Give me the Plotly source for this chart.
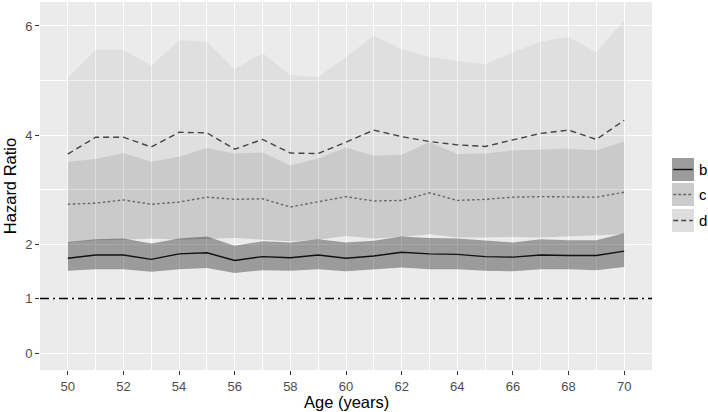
import plotly.graph_objects as go

age = list(range(50, 71))

b_est = [1.74, 1.80, 1.80, 1.72, 1.82, 1.84, 1.70, 1.77, 1.75, 1.80, 1.74,
         1.78, 1.85, 1.82, 1.81, 1.77, 1.76, 1.80, 1.79, 1.79, 1.87]
b_lo = [1.51, 1.54, 1.54, 1.49, 1.54, 1.56, 1.47, 1.52, 1.51, 1.54, 1.50,
        1.53, 1.57, 1.54, 1.54, 1.51, 1.50, 1.54, 1.54, 1.52, 1.58]
b_hi = [2.04, 2.09, 2.10, 2.01, 2.10, 2.14, 1.97, 2.05, 2.03, 2.09, 2.03,
        2.06, 2.14, 2.11, 2.10, 2.06, 2.03, 2.09, 2.07, 2.07, 2.20]

c_est = [2.73, 2.75, 2.81, 2.73, 2.77, 2.86, 2.82, 2.83, 2.68, 2.77, 2.87,
         2.79, 2.80, 2.94, 2.80, 2.82, 2.86, 2.87, 2.87, 2.86, 2.95]
c_lo = [2.03, 2.07, 2.08, 2.10, 2.08, 2.10, 2.11, 2.08, 2.05, 2.08, 2.15,
        2.10, 2.13, 2.18, 2.12, 2.12, 2.13, 2.12, 2.14, 2.16, 2.18]
c_hi = [3.51, 3.56, 3.67, 3.51, 3.60, 3.76, 3.66, 3.68, 3.44, 3.57, 3.77,
        3.62, 3.64, 3.87, 3.65, 3.66, 3.72, 3.74, 3.75, 3.72, 3.88]

d_est = [3.65, 3.96, 3.96, 3.78, 4.05, 4.04, 3.74, 3.92, 3.67, 3.66, 3.87,
         4.09, 3.97, 3.88, 3.82, 3.79, 3.91, 4.03, 4.09, 3.92, 4.27]
d_lo = c_lo
d_hi = [5.05, 5.56, 5.56, 5.27, 5.74, 5.71, 5.21, 5.50, 5.10, 5.06, 5.43,
        5.82, 5.58, 5.43, 5.36, 5.30, 5.52, 5.71, 5.80, 5.52, 6.11]

ref_line = 1
x_ticks = list(range(50, 71, 2))
y_ticks = [0, 1, 2, 4, 6]

series = [
    ("d", d_lo, d_hi, d_est, "rgba(0,0,0,0.05)", "#444444", "6px,4px"),
    ("c", c_lo, c_hi, c_est, "rgba(0,0,0,0.09)", "#666666", "2.5px,2.5px"),
    ("b", b_lo, b_hi, b_est, "rgba(0,0,0,0.34)", "#111111", "solid"),
]
key_fill = {"b": "#9c9c9c", "c": "#cbcbcb", "d": "#dedede"}
key_dash = {"b": "solid", "c": "3px,2px", "d": "5px,3px"}

fig = go.Figure()
for name, lo, hi, est, fill, lc, dash in series:
    fig.add_trace(go.Scatter(x=age, y=lo, mode="lines", line=dict(width=0),
                             showlegend=False, hoverinfo="skip"))
    fig.add_trace(go.Scatter(x=age, y=hi, mode="lines", line=dict(width=0),
                             fill="tonexty", fillcolor=fill,
                             showlegend=False, hoverinfo="skip"))
for name, lo, hi, est, fill, lc, dash in series:
    fig.add_trace(go.Scatter(x=age, y=est, mode="lines",
                             line=dict(color=lc, width=1.4, dash=dash),
                             showlegend=False, name=name))

fig.add_hline(y=ref_line, line=dict(color="black", width=1.5,
                                    dash="9px,4px,2px,4px"))

# manual ggplot-style legend
key_x0, key_x1 = 1.0327, 1.0686
key_h = 23 / 368
tops = {"b": (370 - 158) / 368, "c": (370 - 183) / 368, "d": (370 - 209) / 368}
for name, lo, hi, est, fill, lc, dash in series:
    t = tops[name]
    fig.add_shape(type="rect", xref="paper", yref="paper",
                  x0=key_x0, x1=key_x1, y0=t - key_h, y1=t,
                  fillcolor=key_fill[name], line=dict(width=0), layer="above")
    fig.add_shape(type="line", xref="paper", yref="paper",
                  x0=key_x0 + 0.002, x1=key_x1 - 0.002,
                  y0=t - key_h / 2, y1=t - key_h / 2,
                  line=dict(color=lc, width=1.4, dash=key_dash[name]),
                  layer="above")
    fig.add_annotation(x=1.0735, y=t - key_h / 2, xref="paper", yref="paper",
                       text=name, showarrow=False, xanchor="left",
                       yanchor="middle", font=dict(size=15, color="black"))

# x-axis title placed like ggplot's
fig.add_annotation(x=0.5, y=-0.087, xref="paper", yref="paper",
                   text="Age (years)", showarrow=False, xanchor="center",
                   yanchor="middle", font=dict(size=16.5, color="black"))

axis_common = dict(
    showline=False, zeroline=False, automargin=False,
    gridcolor="white", gridwidth=1.2,
    ticks="outside", ticklen=4, tickwidth=1, tickcolor="#333333",
    tickfont=dict(size=13, color="#4d4d4d"),
    minor=dict(showgrid=True, gridcolor="white", gridwidth=0.5),
)

fig.update_xaxes(range=[49, 71], tickvals=x_ticks, **axis_common)
fig.update_xaxes(minor=dict(dtick=1, tick0=49))
fig.update_yaxes(range=[-0.31, 6.44], tickvals=y_ticks, **axis_common,
                 title=dict(text="Hazard Ratio", font=dict(size=16.5, color="black"),
                            standoff=4))
fig.update_yaxes(minor=dict(tickvals=[3, 5]))

fig.update_layout(
    width=708, height=412,
    margin=dict(l=40, r=56, t=2, b=42),
    plot_bgcolor="#ebebeb", paper_bgcolor="white",
    font=dict(family="Liberation Sans, Arial, sans-serif"),
    showlegend=False,
)

fig.write_html("out.html", config={"displayModeBar": False},
               post_script="document.body.style.margin='0';document.body.style.padding='0';document.body.style.overflow='hidden';")
